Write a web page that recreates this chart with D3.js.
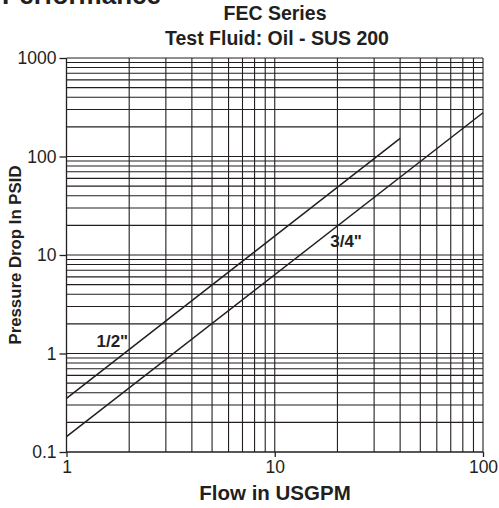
<!DOCTYPE html>
<html><head><meta charset="utf-8">
<script src="https://cdn.jsdelivr.net/npm/d3@7"></script>
<style>body{margin:0;background:#fff}svg{display:block}text{font-family:"Liberation Sans",Arial,sans-serif;fill:#231f20}</style>
</head><body>
<svg id="c" width="499" height="508"></svg>
<script>
const xTicks = [1, 10, 100];
const yTicks = [0.1, 1, 10, 100, 1000];
const seriesNames = ['1/2"', '3/4"'];
const flowHalf = [1, 40];
const dpHalf = [0.35, 153];
const flowThreeQuarter = [1, 100];
const dpThreeQuarter = [0.143, 278];
const labelPos = [[1.66, 1.16], [22, 12.05]]; // data coords of labels

const svg = d3.select('#c');
const m = {l: 66.5, r: 483, t: 58, b: 452};
const x = d3.scaleLog().domain([1, 100]).range([m.l, m.r]);
const y = d3.scaleLog().domain([0.1, 1000]).range([m.b, m.t]);
const ink = '#231f20';
const FF = '"Liberation Sans",Arial,sans-serif';

// grid
const xGrid = [];
for (let d = 1; d < 100; d *= 10) for (let k = 2; k <= 10; k++) xGrid.push(d * k);
const yGrid = [];
for (let d = 0.1; d < 999; d *= 10) for (let k = 2; k <= 10; k++) yGrid.push(+(d * k).toPrecision(3));
const g = svg.append('g');
g.selectAll('.vg').data(xGrid).join('line')
  .attr('x1', d => x(d)).attr('x2', d => x(d)).attr('y1', m.t).attr('y2', m.b)
  .attr('stroke', ink).attr('stroke-width', 1.1);
g.selectAll('.hg').data(yGrid).join('line')
  .attr('y1', d => y(d)).attr('y2', d => y(d)).attr('x1', m.l).attr('x2', m.r)
  .attr('stroke', ink).attr('stroke-width', 1.1);

// axes
const xAxis = d3.axisBottom(x).tickValues(xTicks).tickFormat(d3.format('d')).tickSize(5).tickPadding(4);
const yAxis = d3.axisLeft(y).tickValues(yTicks).tickFormat(d => d < 1 ? '0.1' : d3.format('d')(d)).tickSize(7).tickPadding(3);
const gx = svg.append('g').attr('transform', `translate(0,${m.b})`).call(xAxis);
const gy = svg.append('g').attr('transform', `translate(${m.l},0)`).call(yAxis);
[gx, gy].forEach(a => {
  a.select('.domain').attr('stroke', ink).attr('stroke-width', 1.3);
  a.selectAll('.tick line').attr('stroke', ink).attr('stroke-width', 1.3);
  a.selectAll('text').attr('font-family', FF).attr('font-size', 17.5).attr('fill', ink);
});
gx.select('.domain').attr('d', `M${m.l},0H${m.r}`);
gy.select('.domain').attr('d', `M0,${m.b}V${m.t}`);

// series lines
const series = [
  {name: seriesNames[0], pts: flowHalf.map((f, i) => [f, dpHalf[i]])},
  {name: seriesNames[1], pts: flowThreeQuarter.map((f, i) => [f, dpThreeQuarter[i]])}
];
const line = d3.line().x(d => x(d[0])).y(d => y(d[1]));
svg.selectAll('.s').data(series).join('path')
  .attr('d', d => line(d.pts)).attr('fill', 'none').attr('stroke', ink).attr('stroke-width', 1.5);
svg.selectAll('.sl').data(series).join('text')
  .attr('x', (d, i) => x(labelPos[i][0])).attr('y', (d, i) => y(labelPos[i][1]))
  .attr('text-anchor', 'middle').attr('font-weight', 'bold').attr('font-size', 17)
  .text(d => d.name);

// titles
svg.append('text').attr('x', 2).attr('y', 4).attr('font-weight', 'bold').attr('font-size', 26).text('Performance');
svg.append('text').attr('x', 275).attr('y', 20).attr('text-anchor', 'middle').attr('font-weight', 'bold').attr('font-size', 19.5).text('FEC Series');
svg.append('text').attr('x', 277).attr('y', 45).attr('text-anchor', 'middle').attr('font-weight', 'bold').attr('font-size', 19.5).text('Test Fluid: Oil - SUS 200');
svg.append('text').attr('x', 275).attr('y', 500).attr('text-anchor', 'middle').attr('font-weight', 'bold').attr('font-size', 20.5).text('Flow in USGPM');
svg.append('text').attr('transform', 'translate(21,255) rotate(-90)').attr('text-anchor', 'middle').attr('font-weight', 'bold').attr('font-size', 16.8).text('Pressure Drop In PSID');
</script>
</body></html>
